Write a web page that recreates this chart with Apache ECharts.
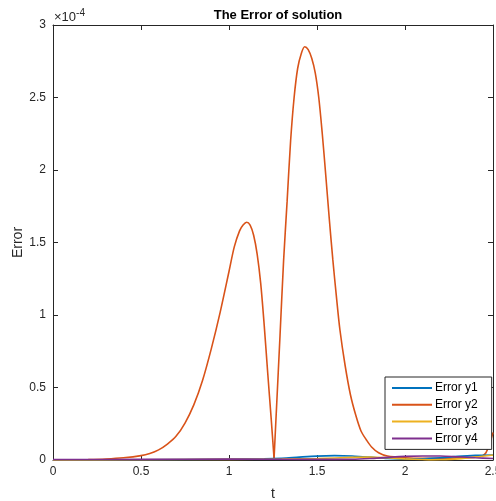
<!DOCTYPE html>
<html>
<head>
<meta charset="utf-8">
<script src="https://cdn.jsdelivr.net/npm/echarts@6/dist/echarts.min.js"></script>
<style>html,body{margin:0;padding:0;background:#fff;overflow:hidden}#c{width:496px;height:501px;overflow:hidden}</style>
</head>
<body>
<div id="c"></div>
<script>
// values in units of 1e-4
const xTicks = [0, 0.5, 1, 1.5, 2, 2.5];
const yTicks = [0, 0.5, 1, 1.5, 2, 2.5, 3];
const seriesNames = ['Error y1', 'Error y2', 'Error y3', 'Error y4'];

const t2 = [0,0.1,0.2,0.3,0.4,0.5,0.55,0.6,0.65,0.7,0.75,0.8,0.85,0.9,0.95,1.0,1.03,1.06,1.08,1.10,1.12,1.14,1.16,1.18,1.20,1.22,1.24,1.256,1.27,1.29,1.31,1.33,1.35,1.37,1.39,1.41,1.43,1.45,1.47,1.49,1.51,1.53,1.55,1.57,1.59,1.61,1.63,1.66,1.69,1.72,1.75,1.78,1.81,1.85,1.90,2.0,2.1,2.2,2.3,2.4,2.44,2.46,2.48,2.5];
const y2 = [0,0.001,0.003,0.007,0.015,0.03,0.045,0.07,0.11,0.165,0.255,0.38,0.55,0.77,1.02,1.30,1.47,1.58,1.62,1.64,1.62,1.55,1.42,1.22,0.93,0.60,0.28,0.01,0.36,0.86,1.37,1.78,2.20,2.50,2.70,2.80,2.85,2.83,2.77,2.67,2.50,2.25,1.96,1.66,1.38,1.13,0.90,0.65,0.45,0.31,0.20,0.14,0.09,0.05,0.028,0.016,0.012,0.012,0.015,0.02,0.03,0.05,0.11,0.19];
const cuspT = 1.256; // the sharp zero of y2

const t1 = [0,0.5,1.0,1.2,1.3,1.4,1.5,1.6,1.7,1.8,1.9,2.0,2.1,2.2,2.3,2.4,2.5];
const y1 = [0,0.002,0.005,0.008,0.012,0.02,0.027,0.03,0.028,0.02,0.01,0.005,0.008,0.015,0.025,0.032,0.035];

const t3 = [0,0.5,1.0,1.3,1.5,1.7,1.8,1.9,2.0,2.1,2.15,2.2,2.3,2.4,2.5];
const y3 = [0,0.002,0.004,0.006,0.01,0.018,0.02,0.015,0.008,0.003,0.001,0.002,0.008,0.02,0.035];

const t4 = [0,0.5,1.0,1.5,1.7,1.8,1.9,2.0,2.1,2.2,2.3,2.4,2.5];
const y4 = [0.003,0.004,0.006,0.004,0.005,0.01,0.018,0.025,0.028,0.028,0.022,0.015,0.01];

const colors = ['#0072BD', '#D95319', '#EDB120', '#7E2F8E'];
const FONT = 'Liberation Sans, Arial, Helvetica, sans-serif';
const AX = '#262626';

function pairs(t, v) { return t.map((x, i) => [x, v[i]]); }
const d2 = pairs(t2, y2);
const d2a = d2.filter(p => p[0] <= cuspT);
const d2b = d2.filter(p => p[0] >= cuspT);

const chart = echarts.init(document.getElementById('c'), null, {renderer: 'canvas', width: 496, height: 501});
const axisCommon = {
  type: 'value',
  axisLine: {show: true, onZero: false, lineStyle: {color: AX, width: 1}},
  axisTick: {show: true, inside: true, length: 5, lineStyle: {color: AX}},
  splitLine: {show: false},
};
function lineSeries(name, data, color, z) {
  return {
    name: name, type: 'line', data: data, showSymbol: false, symbol: 'none',
    smooth: 0.3, lineStyle: {width: 1.6, color: color}, itemStyle: {color: color},
    clip: true, z: z
  };
}
chart.setOption({
  animation: false,
  backgroundColor: '#fff',
  textStyle: {fontFamily: FONT},
  title: {
    text: 'The Error of solution', left: 273, top: 4, textAlign: 'center',
    textStyle: {fontSize: 13, fontWeight: 'bold', color: '#000', fontFamily: FONT}
  },
  grid: {left: 53, top: 25, width: 440, height: 435, containLabel: false, outerBoundsMode: 'none'},
  legend: {
    orient: 'vertical', left: 385, top: 377,
    data: seriesNames,
    itemWidth: 40, itemHeight: 12, itemGap: 4.8,
    padding: [5, 14, 5, 7],
    backgroundColor: '#fff', borderColor: '#262626', borderWidth: 1, borderRadius: 0,
    textStyle: {fontSize: 12, color: '#000', fontFamily: FONT, padding: [0, 0, 0, -2]},
    icon: 'path://M0,0 L40,0 L40,2 L0,2 Z'
  },
  xAxis: [
    Object.assign({}, axisCommon, {
      min: 0, max: 2.5, interval: 0.5, position: 'bottom',
      name: 't', nameLocation: 'middle', nameGap: 27, nameMoveOverlap: false,
      nameTextStyle: {fontSize: 14, color: AX, fontFamily: FONT},
      axisLabel: {fontSize: 12, color: AX, margin: 6, fontFamily: FONT, hideOverlap: false,
        formatter: v => String(v)}
    }),
    Object.assign({}, axisCommon, {
      min: 0, max: 2.5, interval: 0.5, position: 'top', axisLabel: {show: false}
    })
  ],
  yAxis: [
    Object.assign({}, axisCommon, {
      min: 0, max: 3, interval: 0.5, position: 'left',
      name: 'Error', nameLocation: 'middle', nameGap: 28, nameMoveOverlap: false,
      nameTextStyle: {fontSize: 14, color: AX, fontFamily: FONT},
      axisLabel: {fontSize: 12, color: AX, margin: 7, fontFamily: FONT,
        formatter: v => String(v)}
    }),
    Object.assign({}, axisCommon, {
      min: 0, max: 3, interval: 0.5, position: 'right', axisLabel: {show: false}
    })
  ],
  graphic: [{
    type: 'text', left: 54, top: 8, z: 10,
    style: {
      text: '{a|×10}{b|-4}', fontFamily: FONT,
      rich: {
        a: {fontSize: 13, fill: AX, fontFamily: FONT, verticalAlign: 'bottom'},
        b: {fontSize: 10, fill: AX, fontFamily: FONT, verticalAlign: 'top', padding: [0, 0, 6, 0]}
      }
    }
  }],
  series: [
    lineSeries(seriesNames[0], pairs(t1, y1), colors[0], 3),
    lineSeries(seriesNames[1], d2a, colors[1], 2),
    lineSeries(seriesNames[1], d2b, colors[1], 2),
    lineSeries(seriesNames[2], pairs(t3, y3), colors[2], 3),
    lineSeries(seriesNames[3], pairs(t4, y4), colors[3], 3)
  ]
});
</script>
</body>
</html>
